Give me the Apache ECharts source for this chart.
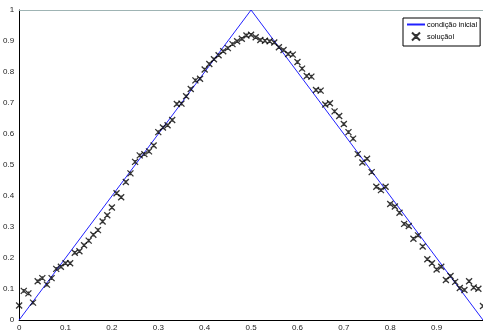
<!DOCTYPE html>
<html>
<head>
<meta charset="utf-8">
<script src="https://cdn.jsdelivr.net/npm/echarts@6/dist/echarts.min.js"></script>
<style>
  html, body { margin: 0; padding: 0; background: #fff; }
  #chart { width: 483px; height: 334px; }
</style>
</head>
<body>
<div id="chart"></div>
<script>
// condição inicial (triângulo)
var initX = [0, 0.5, 1];
var initY = [0, 1, 0];

// solução
var solX = [0, 0.01, 0.02, 0.03, 0.04, 0.05, 0.06, 0.07, 0.08, 0.09,
  0.1, 0.11, 0.12, 0.13, 0.14, 0.15, 0.16, 0.17, 0.18, 0.19,
  0.2, 0.21, 0.22, 0.23, 0.24, 0.25, 0.26, 0.27, 0.28, 0.29,
  0.3, 0.31, 0.32, 0.33, 0.34, 0.35, 0.36, 0.37, 0.38, 0.39,
  0.4, 0.41, 0.42, 0.43, 0.44, 0.45, 0.46, 0.47, 0.48, 0.49,
  0.5, 0.51, 0.52, 0.53, 0.54, 0.55, 0.56, 0.57, 0.58, 0.59,
  0.6, 0.61, 0.62, 0.63, 0.64, 0.65, 0.66, 0.67, 0.68, 0.69,
  0.7, 0.71, 0.72, 0.73, 0.74, 0.75, 0.76, 0.77, 0.78, 0.79,
  0.8, 0.81, 0.82, 0.83, 0.84, 0.85, 0.86, 0.87, 0.88, 0.89,
  0.9, 0.91, 0.92, 0.93, 0.94, 0.95, 0.96, 0.97, 0.98, 0.99, 1];
var solY = [0.047, 0.094, 0.086, 0.056, 0.125, 0.135, 0.114, 0.135, 0.165, 0.172,
  0.183, 0.183, 0.217, 0.222, 0.241, 0.256, 0.275, 0.290, 0.318, 0.338,
  0.363, 0.409, 0.396, 0.445, 0.473, 0.510, 0.531, 0.535, 0.544, 0.563,
  0.606, 0.621, 0.628, 0.645, 0.697, 0.698, 0.722, 0.745, 0.773, 0.778,
  0.808, 0.826, 0.841, 0.854, 0.867, 0.877, 0.890, 0.899, 0.907, 0.918,
  0.920, 0.912, 0.903, 0.901, 0.899, 0.895, 0.880, 0.871, 0.858, 0.856,
  0.832, 0.811, 0.787, 0.785, 0.742, 0.740, 0.695, 0.699, 0.673, 0.658,
  0.632, 0.606, 0.585, 0.535, 0.508, 0.520, 0.477, 0.430, 0.419, 0.430,
  0.374, 0.366, 0.346, 0.310, 0.303, 0.262, 0.273, 0.237, 0.196, 0.183,
  0.163, 0.172, 0.129, 0.142, 0.123, 0.103, 0.097, 0.125, 0.105, 0.101, 0.045];

var labelStyle = { color: '#222', fontSize: 8, fontFamily: 'Liberation Sans, Arial, sans-serif' };

function pairs(xs, ys) {
  var out = [];
  for (var i = 0; i < xs.length; i++) out.push([xs[i], ys[i]]);
  return out;
}

var chart = echarts.init(document.getElementById('chart'), null, { renderer: 'canvas' });

chart.setOption({
  animation: false,
  backgroundColor: '#fff',
  grid: { left: 19, right: 0, top: 10, bottom: 14, containLabel: false },
  legend: {
    orient: 'vertical',
    left: 403,
    top: 18,
    padding: [3, 3, 3, 3],
    itemGap: 2,
    itemWidth: 18,
    itemHeight: 8,
    backgroundColor: '#fff',
    borderColor: '#000',
    borderWidth: 1,
    borderRadius: 0,
    textStyle: { color: '#000', fontSize: 7.4, fontFamily: 'Liberation Sans, Arial, sans-serif', padding: [0, 0, 0, -3] },
    data: [
      { name: 'condição inicial', itemStyle: { opacity: 0 } },
      { name: 'soluçãol' }
    ]
  },
  xAxis: [{
    type: 'value',
    min: 0, max: 1, interval: 0.1,
    axisLine: { lineStyle: { color: '#000', width: 1 } },
    axisTick: { show: false },
    splitLine: { show: false },
    axisLabel: Object.assign({ margin: 4, showMaxLabel: false }, labelStyle)
  }, {
    type: 'value',
    position: 'top',
    min: 0, max: 1,
    axisLine: { show: true, lineStyle: { color: '#9fb4b4', width: 1 } },
    axisTick: { show: false },
    splitLine: { show: false },
    axisLabel: { show: false }
  }],
  yAxis: {
    type: 'value',
    min: 0, max: 1, interval: 0.1,
    axisLine: { show: true, lineStyle: { color: '#000', width: 1 } },
    axisTick: { show: false },
    splitLine: { show: false },
    axisLabel: Object.assign({ margin: 5 }, labelStyle)
  },
  series: [{
    name: 'condição inicial',
    type: 'line',
    data: pairs(initX, initY),
    symbol: 'none',
    lineStyle: { color: '#2020ff', width: 1 },
    itemStyle: { color: '#2020ff' },
    z: 2
  }, {
    name: 'soluçãol',
    type: 'scatter',
    data: pairs(solX, solY),
    symbol: 'path://M0,0L10,10M10,0L0,10M5,2L5,8',
    symbolSize: 6,
    itemStyle: { color: 'none', borderColor: '#000', borderWidth: 1.3 },
    z: 3
  }]
});
</script>
</body>
</html>
